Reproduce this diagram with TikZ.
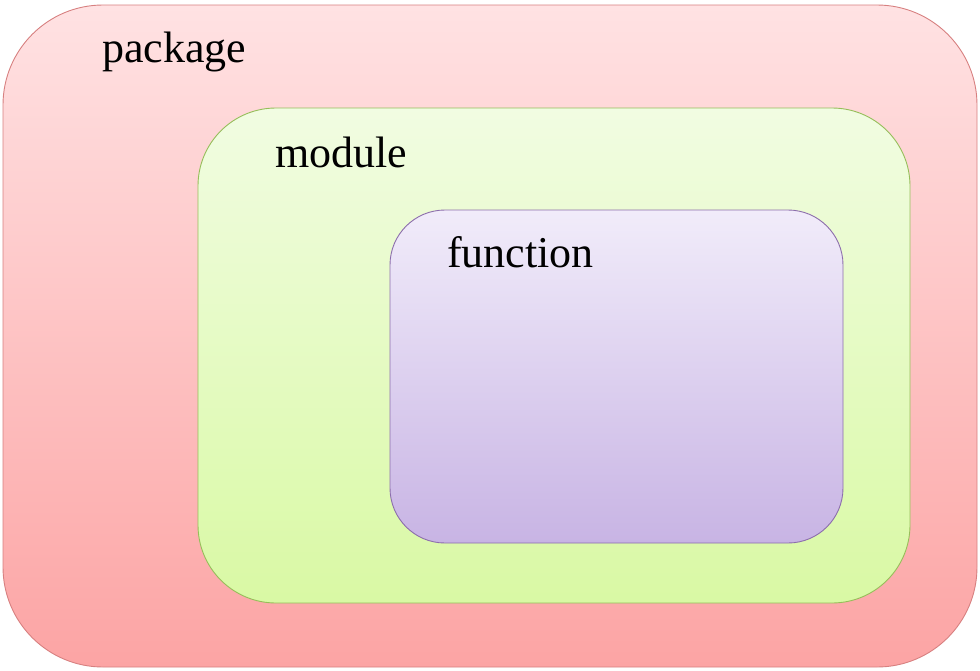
\documentclass[tikz,border=0pt]{standalone}
\usepackage{fontspec}
\setmainfont{Liberation Serif}
\usetikzlibrary{positioning, calc}
\definecolor{pkgtop}{RGB}{255,226,227}
\definecolor{pkgbot}{RGB}{252,164,164}
\definecolor{pkgline}{RGB}{215,128,128}
\definecolor{modtop}{RGB}{241,252,226}
\definecolor{modbot}{RGB}{217,249,164}
\definecolor{modline}{RGB}{150,190,90}
\definecolor{funtop}{RGB}{241,236,250}
\definecolor{funbot}{RGB}{200,180,228}
\definecolor{funline}{RGB}{140,110,172}

\begin{document}
\begin{tikzpicture}[
		x=1pt, y=-1pt,
		box/.style={
				draw=#1line, top color=#1top, bottom color=#1bot,
				line width=0.9pt, inner sep=0pt,
			},
		lbl/.style={anchor=base west, inner sep=0pt, font=\fontsize{44}{50}\selectfont}
	]
	\useasboundingbox (0,0) rectangle (980,670);

	\node [box=pkg, rounded corners=100pt, minimum width=974pt, minimum height=662pt] (pkg) at (490,336) {};
	\node [box=mod, rounded corners=78pt, minimum width=712pt, minimum height=495pt] (mod) at (554,355.5) {};
	\node [box=fun, rounded corners=55pt, minimum width=453pt, minimum height=333pt] (fun) at (616.5,376.5) {};

	\node [lbl] (pkglbl) at (102,62) {package};
	\node [lbl] (modlbl) at (275,167) {module};
	\node [lbl] (funlbl) at (447,267) {function};
\end{tikzpicture}
\end{document}
